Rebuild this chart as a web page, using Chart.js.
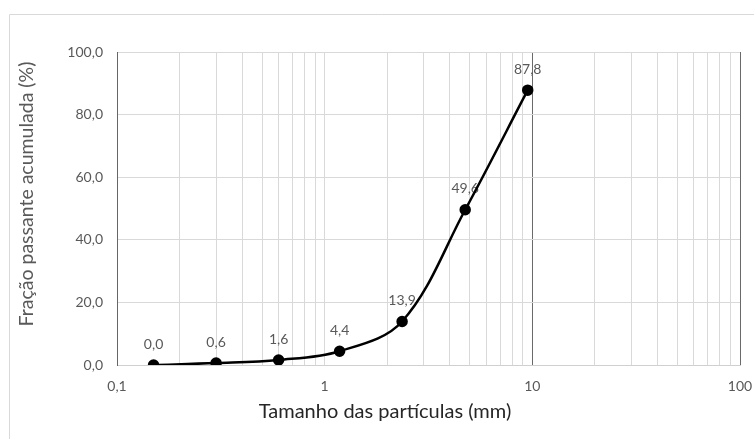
<!DOCTYPE html>
<html><head><meta charset="utf-8">
<script src="https://cdn.jsdelivr.net/npm/chart.js@4/dist/chart.umd.min.js"></script>
<style>html,body{margin:0;padding:0;background:#fff}#wrap{width:754px;height:439px;position:relative}</style>
</head><body><div id="wrap"><canvas id="c" width="754" height="439"></canvas></div>
<script>
// ---- data ----
const sizes = [0.15, 0.3, 0.6, 1.18, 2.36, 4.75, 9.5];
const passing = [0.0, 0.6, 1.6, 4.4, 13.9, 49.6, 87.8];
const xTicks = [0.1,0.2,0.3,0.4,0.5,0.6,0.7,0.8,0.9,1,2,3,4,5,6,7,8,9,10,20,30,40,50,60,70,80,90,100];
const xTickLabels = {'0.1':'0,1','1':'1','10':'10','100':'100'};
const yTicks = [0,20,40,60,80,100];
const xTitle = 'Tamanho das partículas (mm)';
const yTitle = 'Fração passante acumulada (%)';

const FONT = 'Lato, "Open Sans", sans-serif';
const fmt = v => Number(v).toFixed(1).replace('.', ',');

const annot = {
  id: 'annot',
  beforeDraw(chart) {
    const c = chart.ctx;
    c.save();
    c.strokeStyle = '#d9d9d9'; c.lineWidth = 1;
    c.beginPath(); c.moveTo(9.5, 439); c.lineTo(9.5, 14.5); c.lineTo(754, 14.5); c.stroke();
    c.restore();
  },
  beforeDatasetsDraw(chart) {
    const c = chart.ctx;
    const meta = chart.getDatasetMeta(0);
    c.save();
    c.font = '14px ' + FONT; c.fillStyle = '#595959';
    c.textAlign = 'center'; c.textBaseline = 'middle';
    meta.data.forEach((p, i) => c.fillText(fmt(passing[i]), p.x, p.y - 21));
    c.restore();
  },
  afterDraw(chart) {
    const c = chart.ctx;
    c.save();
    c.textAlign = 'center'; c.textBaseline = 'middle';
    c.font = '20px ' + FONT; c.fillStyle = '#262626';
    c.fillText(xTitle, 385, 412);
    c.translate(27, 194); c.rotate(-Math.PI / 2);
    c.font = '19.5px ' + FONT; c.fillStyle = '#595959';
    c.fillText(yTitle, 0, 0);
    c.restore();
  }
};

new Chart(document.getElementById('c'), {
  type: 'line',
  data: {
    datasets: [{
      data: sizes.map((s, i) => ({x: s, y: passing[i]})),
      borderColor: '#000', backgroundColor: '#000', borderWidth: 2.5,
      pointRadius: 4.5, pointBackgroundColor: '#000', pointBorderColor: '#000',
      tension: 0.35, fill: false
    }]
  },
  options: {
    responsive: false, animation: false, devicePixelRatio: 1,
    layout: {padding: {top: 52, right: 14, left: 0, bottom: 0}},
    plugins: {legend: {display: false}, tooltip: {enabled: false}},
    scales: {
      x: {
        type: 'logarithmic', min: 0.1, max: 100,
        afterBuildTicks: s => { s.ticks = xTicks.map(v => ({value: v})); },
        afterFit: s => { s.height = 74; s.paddingLeft = 0; s.paddingRight = 0; },
        ticks: {autoSkip: false, maxRotation: 0, padding: 13, color: '#595959',
          font: {family: FONT, size: 14},
          callback: v => xTickLabels[String(v)] ?? ''},
        grid: {drawTicks: false, color: ctx => (ctx.tick && (ctx.tick.value === 10 || ctx.tick.value === 100)) ? '#6a6a6a' : '#d9d9d9'},
        border: {color: '#d0d0d0'}
      },
      y: {
        min: 0, max: 100,
        afterBuildTicks: s => { s.ticks = yTicks.map(v => ({value: v})); },
        afterFit: s => { s.width = 117; },
        ticks: {padding: 14, color: '#595959', font: {family: FONT, size: 14}, callback: v => fmt(v)},
        grid: {drawTicks: false, color: '#d9d9d9'},
        border: {color: '#666'}
      }
    }
  },
  plugins: [annot]
});
</script>
</body></html>
